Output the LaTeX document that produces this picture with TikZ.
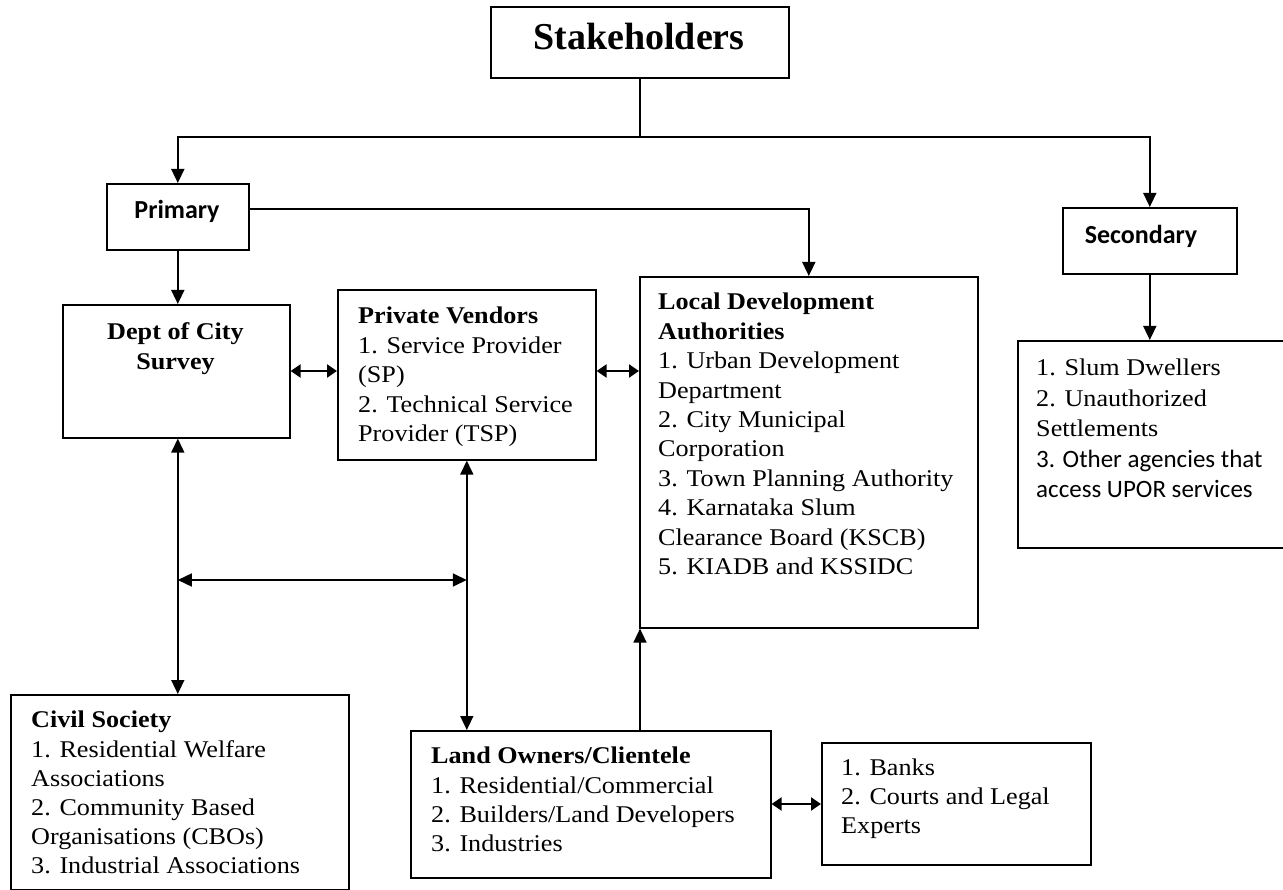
\documentclass[tikz,border=0pt]{standalone}
\usepackage{fontspec}
\setmainfont{Liberation Serif}[FakeStretch=1.09]
\newfontfamily\titlefont{Liberation Serif}
\newfontfamily\calfont{Carlito}
\usetikzlibrary{arrows.meta}
\begin{document}
\begin{tikzpicture}[x=1pt,y=-1pt,
  box/.style={draw, line width=1.6pt, inner sep=0pt, anchor=north west},
  txt/.style={anchor=north west, inner sep=0pt, align=left, font=\fontsize{24}{29.5}\selectfont},
  ctxt/.style={anchor=north, inner sep=0pt, align=center, font=\fontsize{24}{30}\selectfont\bfseries},
  lbl/.style={anchor=base, inner sep=0pt, font=\fontsize{26}{30}\calfont\bfseries},
  conn/.style={line width=1.6pt},
  arr/.style={line width=1.6pt, -{Triangle[length=14pt,width=13pt]}},
  darr/.style={line width=1.6pt, {Triangle[length=14pt,width=13pt]}-{Triangle[length=14pt,width=13pt]}},
  sdarr/.style={line width=2.2pt, {Triangle[length=10pt,width=13pt]}-{Triangle[length=10pt,width=13pt]}}
]
\useasboundingbox (0,0) rectangle (1283,890);

% boxes
\node[box, minimum width=298pt, minimum height=71pt] (stake) at (490,6) {};
\node[box, minimum width=142pt, minimum height=66pt] (primary) at (106,183) {};
\node[box, minimum width=174pt, minimum height=66pt] (secondary) at (1062,207) {};
\node[box, minimum width=227pt, minimum height=133pt] (dept) at (62,304) {};
\node[box, minimum width=258pt, minimum height=170pt] (pv) at (337,289) {};
\node[box, minimum width=338pt, minimum height=351pt] (lda) at (639,276) {};
\node[box, minimum width=280pt, minimum height=207pt] (sec) at (1017,340) {};
\node[box, minimum width=338pt, minimum height=195pt] (civil) at (10,694) {};
\node[box, minimum width=360pt, minimum height=147pt] (lo) at (410,730) {};
\node[box, minimum width=269pt, minimum height=122pt] (banks) at (821,742) {};

% texts
\node[anchor=base, inner sep=0pt, font=\fontsize{38}{40}\titlefont\bfseries] (staket) at (639,50) {Stakeholders};
\node[lbl] (primaryt) at (177,219) {Primary};
\node[lbl] (secondaryt) at (1141,244) {Secondary};
\node[ctxt] (deptt) at (175.5,322) {Dept of City\\Survey};
\node[txt] (pvt) at (358,307) {\textbf{Private Vendors}\\1. Service Provider\\(SP)\\2. Technical Service\\Provider (TSP)};
\node[txt, font=\fontsize{24}{29.4}\selectfont] (ldat) at (658,293) {\textbf{Local Development}\\\textbf{Authorities}\\1. Urban Development\\Department\\2. City Municipal\\Corporation\\3. Town Planning Authority\\4. Karnataka Slum\\Clearance Board (KSCB)\\5. KIADB and KSSIDC};
\node[txt, font=\fontsize{24}{30.5}\selectfont] (sect) at (1036,359) {1. Slum Dwellers\\2. Unauthorized\\Settlements\\{\fontsize{25}{30.5}\calfont 3. Other agencies that}\\{\fontsize{25}{30.5}\calfont access UPOR services}};
\node[txt, font=\fontsize{24}{29.2}\selectfont] (civilt) at (31,711) {\textbf{Civil Society}\\1. Residential Welfare\\Associations\\2. Community Based\\Organisations (CBOs)\\3. Industrial Associations};
\node[txt, font=\fontsize{24}{29.3}\selectfont] (lot) at (431,747) {\textbf{Land Owners/Clientele}\\1. Residential/Commercial\\2. Builders/Land Developers\\3. Industries};
\node[txt, font=\fontsize{24}{29}\selectfont] (bankst) at (841,759) {1. Banks\\2. Courts and Legal\\Experts};

% connectors
\coordinate (j) at (stake.south |- 0,137);
\draw[conn] (stake.south) -- (j);
\draw[arr] (j) -| (primary.north);
\draw[arr] (j) -| (secondary.north);
\coordinate (pe) at (primary.east |- 0,209);
\draw[arr] (pe) -| (lda.north);
\draw[arr] (primary.south) -- (primary.south |- dept.north);
\draw[arr] (secondary.south) -- (secondary.south |- sec.north);
\coordinate (de) at (dept.east |- 0,371);
\draw[sdarr] (de) -- (de -| pv.west);
\coordinate (pe2) at (pv.east |- 0,371);
\draw[sdarr] (pe2) -- (pe2 -| lda.west);
\coordinate (db) at (primary.south |- dept.south);
\draw[darr] (db) -- (db |- civil.north);
\draw[darr] (pv.south) -- (pv.south |- lo.north);
\coordinate (hl) at (primary.south |- 0,580);
\coordinate (hr) at (pv.south |- 0,580);
\draw[darr] (hl) -- (hr);
\coordinate (lou) at (lda.south west |- lo.north);
\draw[arr] ([xshift=1pt]lou) -- ([xshift=1pt]lda.south west);
\coordinate (loe) at (lo.east |- 0,804);
\draw[sdarr] (loe) -- (loe -| banks.west);
\end{tikzpicture}
\end{document}
